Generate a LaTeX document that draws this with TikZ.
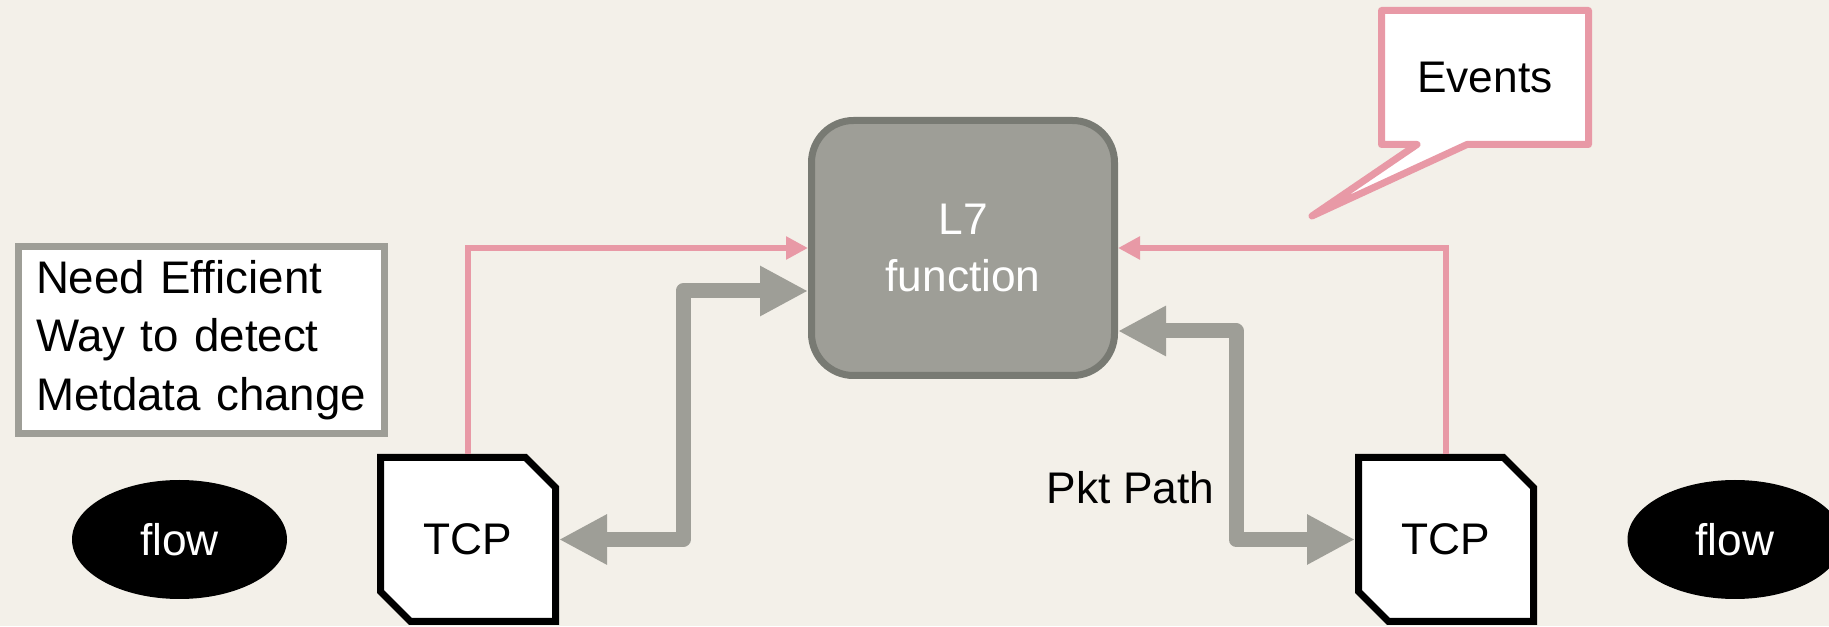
\documentclass[tikz,border=0pt]{standalone}
\usepackage{fontspec}
\setmainfont{Liberation Sans}
\usetikzlibrary{arrows.meta,backgrounds,shapes.geometric}
\definecolor{paper}{RGB}{243,240,233}
\definecolor{eventpink}{RGB}{232,153,166}
\definecolor{pathgray}{RGB}{158,158,151}
\definecolor{boxrim}{RGB}{120,122,115}
\tikzset{					% TikZ options
	txt/.style={font=\fontsize{12.6pt}{16.2pt}\selectfont},
	% Boxes
	notebox/.style={font=\fontsize{13pt}{16.6pt}\selectfont,draw=pathgray,fill=white,line width=0.07cm,align=left,text width=3.31cm,inner xsep=0.175cm,minimum height=1.87cm},
	l7box/.style={txt,draw=boxrim,fill=pathgray,line width=0.07cm,rounded corners=0.42cm,minimum width=3.03cm,minimum height=2.55cm,text=white,align=center},
	tcpbox/.style={txt,minimum width=1.75cm,minimum height=1.64cm,outer sep=0pt},
	flowdot/.style={txt,ellipse,fill=black,text=white,minimum width=2.15cm,minimum height=1.19cm},
	evbox/.style={txt,minimum width=2.07cm,minimum height=1.34cm,outer sep=0pt},
	% Connectors
	evline/.style={eventpink,line width=0.065cm,shorten <=0.035cm,-{Triangle[length=0.22cm,width=0.22cm]}},
	pktline/.style={pathgray,line width=0.15cm,line join=round,shorten <=0.035cm,{Triangle[length=0.48cm,width=0.47cm]}-{Triangle[length=0.48cm,width=0.47cm]}}
}

\begin{document}
\begin{tikzpicture}
	\useasboundingbox (0,0) rectangle (18.29,6.26);
	\node[notebox] (note) at (2.015,2.86) {Need Efficient\\Way to detect\\Metdata change};
	\node[l7box] (l7) at (9.63,3.78) {L7\\function};
	\node[tcpbox] (tcpL) at (4.68,0.865) {TCP};
	\node[tcpbox] (tcpR) at (14.46,0.865) {TCP};
	\node[flowdot] (flowL) at (1.795,0.865) {flow};
	\node[flowdot] (flowR) at (17.35,0.865) {flow};
	\node[evbox] (events) at (14.85,5.485) {Events};
	\coordinate (evtip) at (13.12,4.10);
	\node[txt,inner sep=0pt,anchor=base east] (pkt) at (12.15,1.22) {Pkt Path};
	\begin{scope}[on background layer]
		\fill[paper] (0,0) rectangle (18.29,6.26);
		\foreach \n in {tcpL,tcpR}
			\filldraw[fill=white,line width=0.07cm] (\n.north west) -- ([xshift=-0.3cm]\n.north east) -- ([yshift=-0.3cm]\n.north east) -- (\n.south east) -- ([xshift=0.3cm]\n.south west) -- ([yshift=0.3cm]\n.south west) -- cycle;
		\filldraw[draw=eventpink,fill=white,line width=0.07cm,line join=round] (events.north west) -- (events.north east) -- (events.south east) -- ([xshift=0.855cm]events.south west) -- (evtip) -- ([xshift=0.355cm]events.south west) -- (events.south west) -- cycle;
	\end{scope}
	\draw[evline] (tcpL.north) |- (l7.west);
	\draw[evline] (tcpR.north) |- (l7.east);
	\draw[pktline] (tcpL.east) -- ++(1.275,0) |- ([yshift=-0.43cm]l7.west);
	\draw[pktline] (tcpR.west) -- ++(-1.225,0) |- ([yshift=-0.83cm]l7.east);
\end{tikzpicture}
\end{document}
